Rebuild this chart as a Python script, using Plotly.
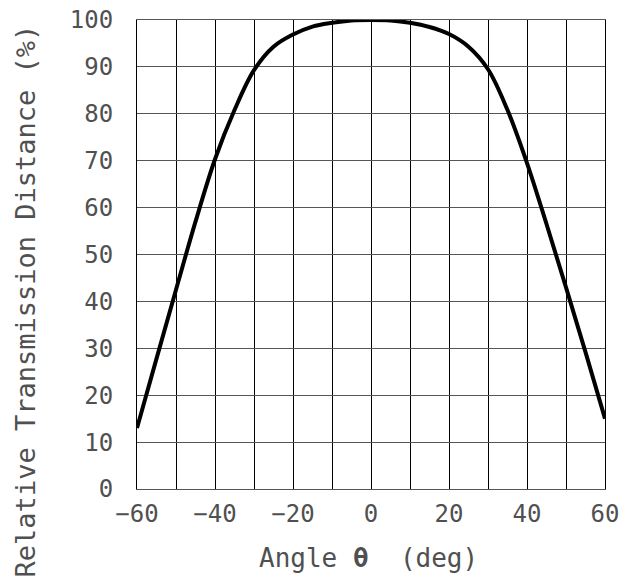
import plotly.graph_objects as go

angle = [-60, -55, -50, -45, -40, -35, -30, -25, -20, -15, -10, -5, 0,
         5, 10, 15, 20, 25, 30, 35, 40, 45, 50, 55, 60]
distance = [13.0, 27.8, 42.5, 57.0, 70.3, 80.8, 89.3, 94.3, 96.9, 98.6, 99.4, 99.9, 100,
            99.9, 99.4, 98.5, 97.0, 94.3, 89.5, 80.8, 69.5, 56.5, 43.0, 29.2, 15.0]

x_ticks = [-60, -40, -20, 0, 20, 40, 60]
x_tick_text = ["\u221260", "\u221240", "\u221220", "0", "20", "40", "60"]
y_ticks = list(range(0, 101, 10))

FONT = "DejaVu Sans Mono"
TXT = "#505050"

fig = go.Figure()
fig.add_trace(go.Scatter(
    x=angle, y=distance, mode="lines", cliponaxis=False,
    line=dict(color="black", width=4, shape="spline", smoothing=1.0),
    hoverinfo="skip", showlegend=False,
))

fig.update_layout(
    width=633, height=578,
    margin=dict(l=137, r=28, t=20, b=89),
    paper_bgcolor="white", plot_bgcolor="white",
    font=dict(family=FONT, size=24, color=TXT),
    xaxis=dict(
        range=[-60, 60], tickvals=x_ticks, ticktext=x_tick_text,
        showgrid=True, gridcolor="black", gridwidth=1,
        showline=True, linecolor="#555", linewidth=1, mirror=True,
        ticks="", ticklabelstandoff=3, zeroline=False,
        ticklabeloverflow="allow",
        minor=dict(showgrid=True, dtick=10, gridcolor="black", gridwidth=1),
        automargin=False,
    ),
    yaxis=dict(
        range=[0, 100], tickvals=y_ticks,
        showgrid=True, gridcolor="#555", gridwidth=1,
        showline=True, linecolor="black", linewidth=1, mirror=True,
        ticks="", ticklabelstandoff=18, zeroline=False,
        ticklabeloverflow="allow",
        automargin=False,
    ),
    annotations=[
        dict(text="Angle <b>\u03b8</b>  (deg)", xref="paper", yref="paper",
             x=0.495, y=0, yshift=-69, showarrow=False, xanchor="center", yanchor="middle",
             font=dict(family=FONT, size=26, color=TXT)),
        dict(text="Relative Transmission Distance (%)", xref="paper", yref="paper",
             x=0, xshift=-112, y=0.4, textangle=-90, showarrow=False,
             xanchor="center", yanchor="middle",
             font=dict(family=FONT, size=27, color=TXT)),
    ],
)

fig.write_html("out.html", config={"displayModeBar": False},
               post_script="document.body.style.margin='0';")
